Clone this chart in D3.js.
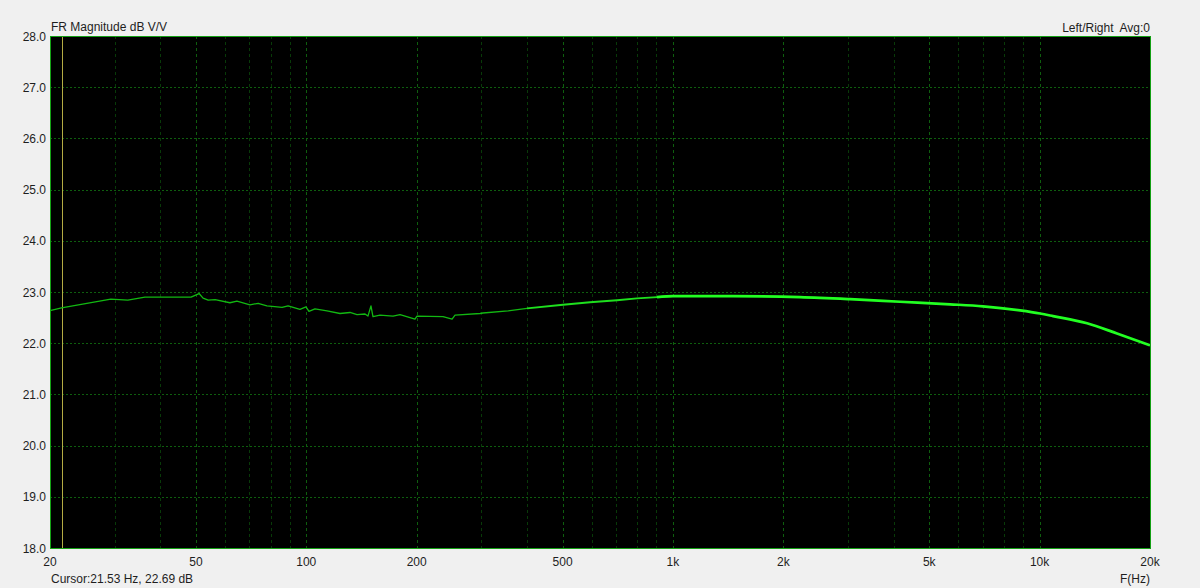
<!DOCTYPE html>
<html>
<head>
<meta charset="utf-8">
<style>
  html, body { margin: 0; padding: 0; background: #f0f0f0; }
  svg { display: block; font-family: "Liberation Sans", Arial, sans-serif; }
</style>
</head>
<body>
<svg width="1200" height="588"></svg>
<script src="https://d3js.org/d3.v7.min.js"></script>
<script>
// frequency response (Hz, dB)
var freqs = [20, 21.5, 29.3, 32.6, 36.3, 48.5, 51.0, 52.3, 54.0, 56.4, 61.9, 64.7, 70.2, 73.9, 78.1,
  85.9, 89.2, 96.1, 99.8, 101.7, 105.6, 113.9, 123.6, 131.6, 137.5, 144.6, 147.3, 150.1, 152.0,
  158.9, 172.4, 180.2, 197.9, 200.4, 236.0, 249.8, 254.5, 297.7, 303.3, 354.9, 399.9, 501.4,
  594.1, 703.9, 797.8, 904.8, 1000, 1458, 2221, 3040, 4161, 5696, 7007, 8841, 10024, 10880,
  13467, 16255, 20000];
var levels = [22.635, 22.69, 22.86, 22.84, 22.90, 22.90, 22.97, 22.88, 22.84, 22.85, 22.79, 22.82,
  22.75, 22.78, 22.73, 22.70, 22.73, 22.66, 22.71, 22.62, 22.67, 22.63, 22.58, 22.60, 22.56,
  22.57, 22.53, 22.73, 22.52, 22.55, 22.53, 22.56, 22.47, 22.53, 22.52, 22.47, 22.55, 22.58,
  22.59, 22.63, 22.68, 22.75, 22.80, 22.84, 22.875, 22.90, 22.92, 22.92, 22.90, 22.86, 22.81,
  22.76, 22.72, 22.64, 22.58, 22.53, 22.39, 22.19, 21.96];

var xTicks = [20, 50, 100, 200, 500, 1000, 2000, 5000, 10000, 20000];
var xTickLabels = ["20", "50", "100", "200", "500", "1k", "2k", "5k", "10k", "20k"];
var minorTicks = [30, 40, 60, 70, 80, 90, 300, 400, 600, 700, 800, 900,
  3000, 4000, 6000, 7000, 8000, 9000];
var yTicks = d3.range(18, 28.01, 1);
var cursorHz = 21.53;

var svg = d3.select('svg');
var margin = { left: 50, right: 50, top: 36, bottom: 40 };
var width = +svg.attr('width') - margin.left - margin.right;
var height = +svg.attr('height') - margin.top - margin.bottom;

var x = d3.scaleLog().domain([20, 20000]).range([0, width]);
var y = d3.scaleLinear().domain([18, 28]).range([height, 0]);

var g = svg.append('g').attr('transform', `translate(${margin.left},${margin.top})`);

g.append('rect').attr('width', width).attr('height', height).attr('fill', '#000');

// grid
g.selectAll('.minor').data(minorTicks).enter().append('line')
  .attr('x1', d => Math.round(x(d)) + 0.5).attr('x2', d => Math.round(x(d)) + 0.5)
  .attr('y1', 0).attr('y2', height)
  .attr('stroke', '#083a08').attr('stroke-dasharray', '3,3');
g.selectAll('.major').data(xTicks.slice(1, -1)).enter().append('line')
  .attr('x1', d => Math.round(x(d)) + 0.5).attr('x2', d => Math.round(x(d)) + 0.5)
  .attr('y1', 0).attr('y2', height)
  .attr('stroke', '#0e5e0e').attr('stroke-dasharray', '3,3');
g.selectAll('.hgrid').data(yTicks.slice(1, -1)).enter().append('line')
  .attr('x1', 0).attr('x2', width)
  .attr('y1', d => Math.round(y(d)) + 0.5).attr('y2', d => Math.round(y(d)) + 0.5)
  .attr('stroke', '#0e5e0e').attr('stroke-dasharray', '2,2');

// cursor
g.append('line')
  .attr('x1', Math.round(x(cursorHz)) + 0.5).attr('x2', Math.round(x(cursorHz)) + 0.5)
  .attr('y1', 0).attr('y2', height)
  .attr('stroke', '#b4ac44');

// curve, drawn thicker where the measurement is dense
var data = freqs.map((f, i) => ({ f: f, v: levels[i] }));
var parts = [
  { lo: 0, hi: 400, w: 1.3, c: '#12b812', curve: d3.curveLinear },
  { lo: 399, hi: 1000, w: 1.9, c: '#1ee01e', curve: d3.curveLinear },
  { lo: 904, hi: 20001, w: 2.7, c: '#22ff22', curve: d3.curveMonotoneX }
];
parts.forEach(function (p) {
  var line = d3.line().x(d => x(d.f)).y(d => y(d.v)).curve(p.curve);
  g.append('path')
    .datum(data.filter(d => d.f >= p.lo && d.f <= p.hi))
    .attr('fill', 'none').attr('stroke', p.c).attr('stroke-width', p.w)
    .attr('stroke-linejoin', 'round')
    .attr('d', line);
});

g.append('rect').attr('x', 0.5).attr('y', 0.5).attr('width', width).attr('height', height)
  .attr('fill', 'none').attr('stroke', '#14a014');

// axes text
var txt = '#1e1e1e';
g.selectAll('.ylab').data(yTicks).enter().append('text')
  .attr('x', -4).attr('y', d => y(d) + 4.5)
  .attr('text-anchor', 'end').attr('font-size', 12).attr('fill', txt)
  .text(d => d.toFixed(1));
g.selectAll('.xlab').data(xTicks).enter().append('text')
  .attr('x', d => x(d)).attr('y', height + 18)
  .attr('text-anchor', 'middle').attr('font-size', 12).attr('fill', txt)
  .text((d, i) => xTickLabels[i]);

svg.append('text').attr('x', 51).attr('y', 31).attr('font-size', 12).attr('fill', txt)
  .text('FR Magnitude dB V/V');
svg.append('text').attr('x', 1150).attr('y', 32).attr('text-anchor', 'end')
  .attr('font-size', 12).attr('fill', txt).attr('xml:space', 'preserve')
  .text('Left/Right  Avg:0');
svg.append('text').attr('x', 51).attr('y', 583).attr('font-size', 12).attr('fill', txt)
  .text('Cursor:21.53 Hz, 22.69 dB');
svg.append('text').attr('x', 1150).attr('y', 583).attr('text-anchor', 'end')
  .attr('font-size', 12).attr('fill', txt)
  .text('F(Hz)');
</script>
</body>
</html>
